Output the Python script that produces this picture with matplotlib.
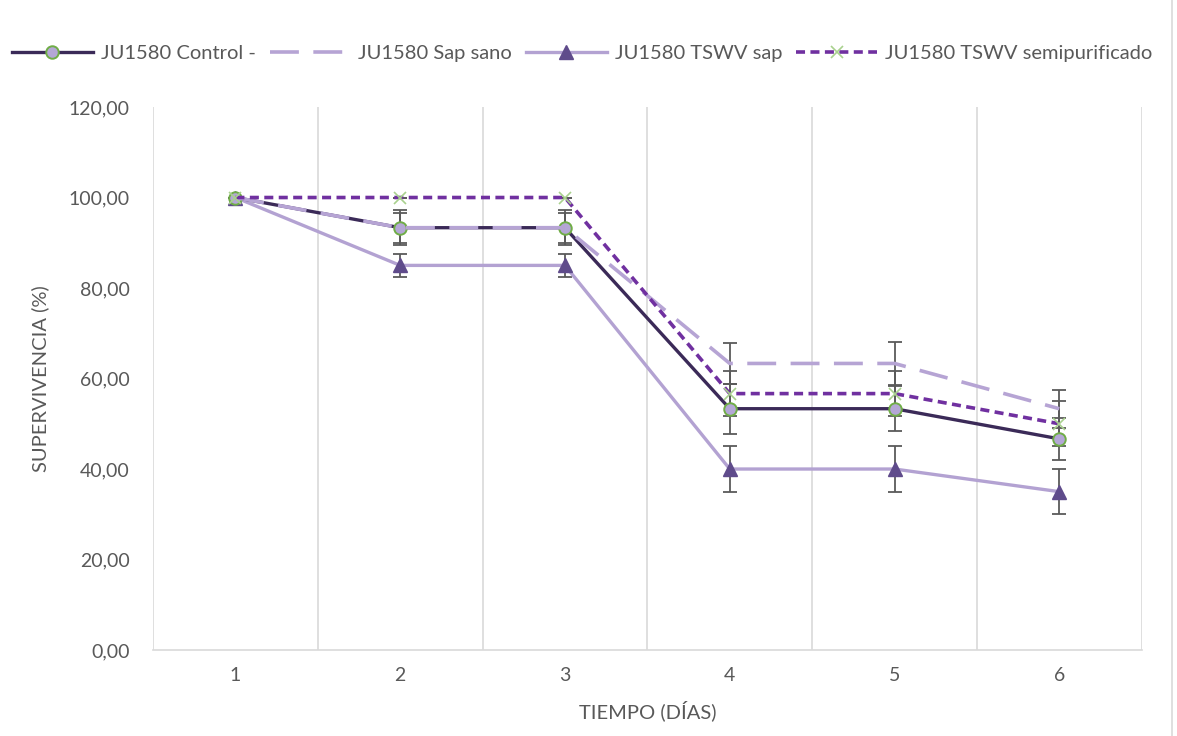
import matplotlib.pyplot as plt
from matplotlib.lines import Line2D

plt.rcParams['font.family'] = ['Lato', 'DejaVu Sans']

dias = [1, 2, 3, 4, 5, 6]

control = [100.0, 93.33, 93.33, 53.33, 53.33, 46.67]
control_err = [0, 3.3, 3.3, 5.5, 5.0, 4.6]

sap_sano = [100.0, 93.33, 93.33, 63.33, 63.33, 53.33]
sap_sano_err = [0, 3.9, 3.9, 4.6, 4.7, 4.2]

tswv_sap = [100.0, 85.0, 85.0, 40.0, 40.0, 35.0]
tswv_sap_err = [0, 2.5, 2.5, 5.0, 5.0, 5.0]

semipur = [100.0, 100.0, 100.0, 56.67, 56.67, 50.0]
semipur_err = [0, 0, 0, 5.0, 5.0, 5.0]

yticks = [0, 20, 40, 60, 80, 100, 120]

fig = plt.figure(figsize=(11.77, 7.36), dpi=100)
ax = fig.add_axes([0.130, 0.1168, 0.840, 0.7378])

err_kw = dict(fmt='none', ecolor='#5a5a5a', elinewidth=1.3, capsize=5, capthick=1.3, zorder=2)
ax.errorbar(dias, sap_sano, yerr=sap_sano_err, **err_kw)
ax.errorbar(dias, control, yerr=control_err, **err_kw)
ax.errorbar(dias, tswv_sap, yerr=tswv_sap_err, **err_kw)
ax.errorbar(dias, semipur, yerr=semipur_err, **err_kw)

ax.plot(dias, control, color='#3b2a58', lw=2.4, marker='o', ms=9,
        mfc='#b4a7d6', mec='#70ad47', mew=1.4, zorder=4, label='JU1580 Control -')
ax.plot(dias, sap_sano, color='#b6a4d4', lw=2.6, dashes=(8, 4), zorder=4.5,
        label='JU1580 Sap sano')
ax.plot(dias, tswv_sap, color='#b3a2d2', lw=2.4, marker='^', ms=10,
        mfc='#5f4b8b', mec='#5f4b8b', zorder=3, label='JU1580 TSWV sap')
ax.plot(dias, semipur, color='#7030a0', lw=2.6, dashes=(2.5, 1.5), marker='x', ms=9,
        mec='#a9d18e', mew=1.2, zorder=5, label='JU1580 TSWV semipurificado')

ax.set_xlim(0.5, 6.5)
ax.set_ylim(0, 120)
ax.set_yticks(yticks)
ax.set_yticklabels([f'{v:.2f}'.replace('.', ',') for v in yticks])
ax.set_xticks(dias)
ax.set_xticks([x + 0.5 for x in range(0, 7)], minor=True)
ax.grid(True, which='minor', axis='x', color='#d9d9d9', lw=1.2)
ax.tick_params(which='both', length=0)
ax.tick_params(axis='both', labelsize=14, colors='#595959', pad=12)
ax.tick_params(axis='y', pad=17)
for s in ['top', 'right', 'left']:
    ax.spines[s].set_visible(False)
ax.spines['bottom'].set_color('#d9d9d9')
ax.spines['bottom'].set_linewidth(1.2)

ax.set_xlabel('TIEMPO (DÍAS)', fontsize=14.5, color='#595959', labelpad=12)
ax.set_ylabel('SUPERVIVENCIA (%)', fontsize=14.5, color='#595959', labelpad=14)

fig.legend(loc='upper left', bbox_to_anchor=(0.0, 0.955), ncol=4, frameon=False,
           fontsize=14.5, labelcolor='#595959', handlelength=4.0,
           columnspacing=0.7, handletextpad=0.4, borderaxespad=0.2)

fig.add_artist(Line2D([0.9955, 0.9955], [0, 1], color='#d9d9d9', lw=1.2))

fig.savefig('out.png', dpi=100, facecolor='white')
